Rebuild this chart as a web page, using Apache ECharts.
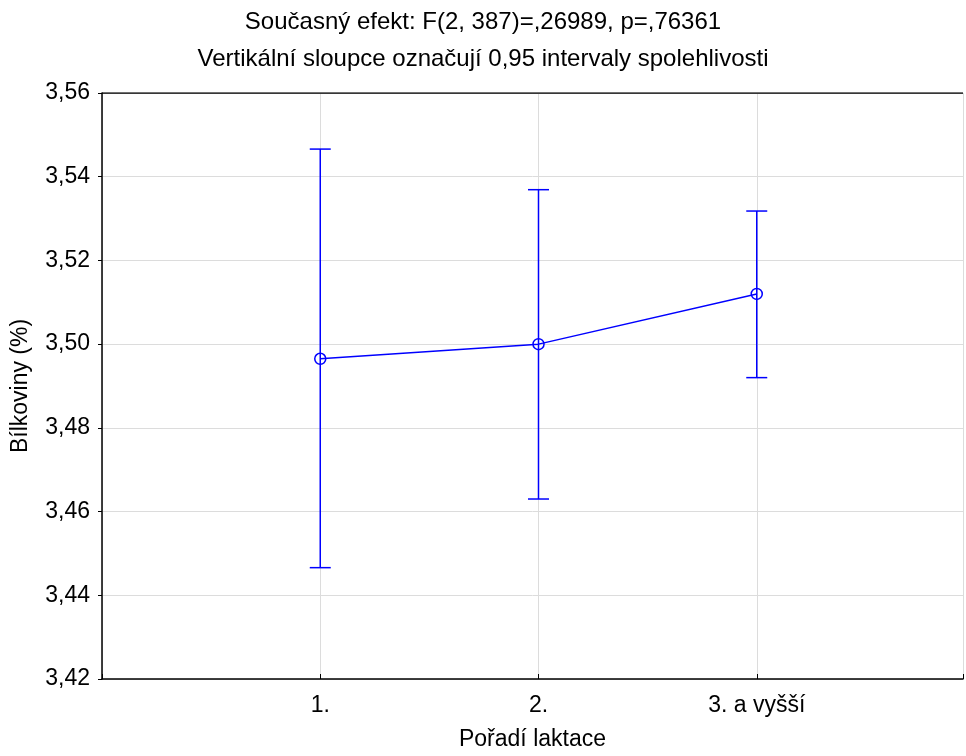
<!DOCTYPE html>
<html lang="cs">
<head>
  <meta charset="UTF-8">
  <title>Bílkoviny podle pořadí laktace</title>
  <script src="https://cdn.jsdelivr.net/npm/echarts@6/dist/echarts.min.js"></script>
  <style>
    * { margin: 0; padding: 0; }
    body { background: #fff; }
    #chart { width: 966px; height: 756px; }
  </style>
</head>
<body>
  <div id="chart"></div>
  <script type="text/javascript">
    // data
    const categories = ['1.', '2.', '3. a vyšší']
    const means = [3.4965, 3.5000, 3.5120]
    const lower = [3.4466, 3.4630, 3.4920]
    const upper = [3.5466, 3.5369, 3.5318]
    const yTicks = [3.42, 3.44, 3.46, 3.48, 3.50, 3.52, 3.54, 3.56]

    const blue = '#0000ff'
    const font = 'Liberation Sans, Arial, sans-serif'
    const fs = 23
    // plot runs off the right edge: x axis ends before the 4th slot
    const xMax = 3.945

    var chart = echarts.init(document.getElementById('chart'))

    // points on x = 1, 2, 3
    const meanData = means.map((v, i) => [i + 1, v])
    const barData = means.map((v, i) => [i + 1, lower[i], upper[i]])

    var option = {
      animation: false,
      textStyle: { fontFamily: font },
      title: [
        {
          text: 'Současný efekt: F(2, 387)=,26989, p=,76361',
          left: 'center', top: 5,
          textStyle: { fontSize: 24, fontWeight: 'normal', color: '#000', fontFamily: font }
        },
        {
          text: 'Vertikální sloupce označují 0,95 intervaly spolehlivosti',
          left: 'center', top: 42,
          textStyle: { fontSize: 24, fontWeight: 'normal', color: '#000', fontFamily: font }
        }
      ],
      grid: { left: 102, right: 0, top: 93, bottom: 71 },
      xAxis: {
        type: 'value',
        min: 0, max: xMax, interval: 1,
        name: 'Pořadí laktace',
        nameLocation: 'middle',
        nameGap: 49,
        nameTextStyle: { fontSize: fs, color: '#000' },
        axisLine: { show: true, lineStyle: { color: '#000', width: 1.5 } },
        axisTick: { show: true, inside: true, length: 5, lineStyle: { color: '#000' } },
        axisLabel: {
          fontSize: fs, color: '#000', margin: 15,
          formatter: v => categories[v - 1] || ''
        },
        splitLine: { show: true, lineStyle: { color: '#dcdcdc', width: 1 } }
      },
      yAxis: {
        type: 'value',
        min: yTicks[0], max: yTicks[yTicks.length - 1], interval: 0.02,
        name: 'Bílkoviny (%)',
        nameLocation: 'middle',
        nameGap: 70,
        nameTextStyle: { fontSize: fs, color: '#000' },
        axisLine: { show: true, lineStyle: { color: '#000', width: 1.5 } },
        axisTick: { show: true, length: 4, lineStyle: { color: '#000' } },
        axisLabel: {
          fontSize: fs, color: '#000', margin: 12,
          formatter: v => v.toFixed(2).replace('.', ',')
        },
        splitLine: { show: true, lineStyle: { color: '#dcdcdc', width: 1 } }
      },
      series: [
        {
          // top frame line
          type: 'line',
          data: [[0, 3.56], [xMax, 3.56]],
          symbol: 'none',
          lineStyle: { color: '#000', width: 1.5 },
          silent: true,
          z: 1
        },
        {
          type: 'line',
          data: meanData,
          symbol: 'circle',
          symbolSize: 11,
          itemStyle: { color: 'transparent', borderColor: blue, borderWidth: 1.5 },
          lineStyle: { color: blue, width: 1.5 },
          z: 3
        },
        {
          type: 'custom',
          data: barData,
          z: 4,
          renderItem: function (params, api) {
            const x = api.value(0)
            const lo = api.coord([x, api.value(1)])
            const hi = api.coord([x, api.value(2)])
            const half = 10.5
            const style = { stroke: blue, lineWidth: 1.5 }
            return {
              type: 'group',
              children: [
                { type: 'line', shape: { x1: hi[0], y1: hi[1], x2: lo[0], y2: lo[1] }, style: style },
                { type: 'line', shape: { x1: hi[0] - half, y1: hi[1], x2: hi[0] + half, y2: hi[1] }, style: style },
                { type: 'line', shape: { x1: lo[0] - half, y1: lo[1], x2: lo[0] + half, y2: lo[1] }, style: style }
              ]
            }
          }
        }
      ]
    }

    chart.setOption(option)
  </script>
</body>
</html>
